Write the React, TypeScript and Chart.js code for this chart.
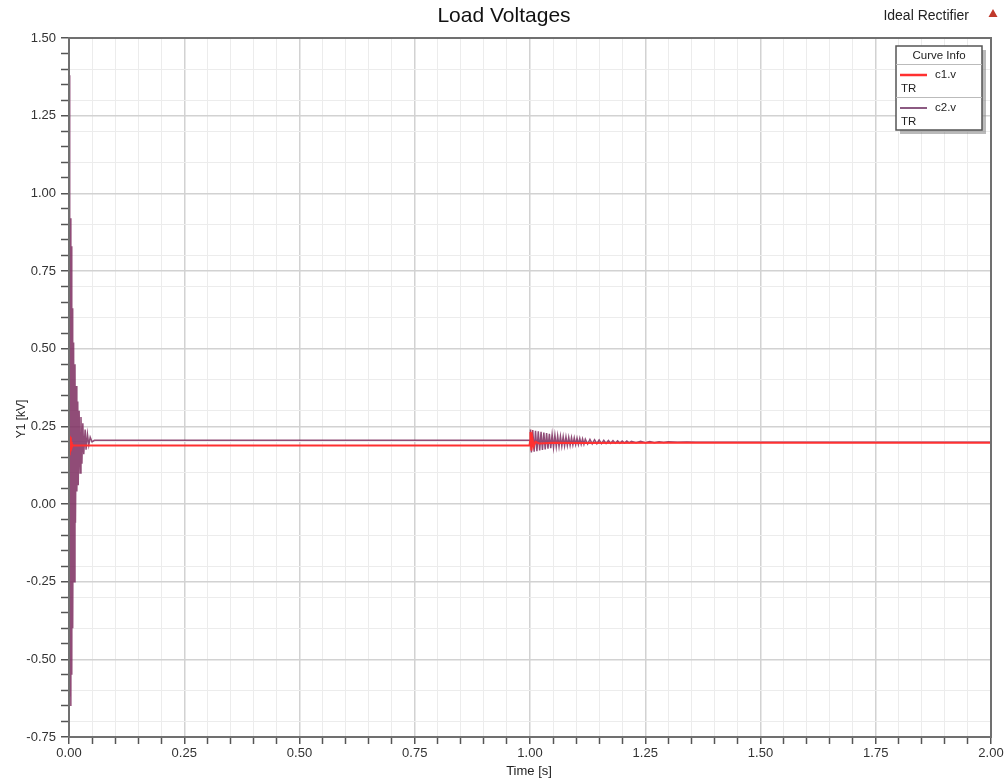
import React, { useEffect, useRef } from "react";
import { Chart, registerables } from "chart.js";

Chart.register(...registerables);

// ---- Data ----
const chartTitle = "Load Voltages";
const subTitle = "Ideal Rectifier";
const xAxisTitle = "Time [s]";
const yAxisTitle = "Y1 [kV]";
const legendTitle = "Curve Info";
const seriesNames = ["c1.v", "c2.v"];
const seriesSub = ["TR", "TR"];

// c1.v (red)
const c1Time = [0.0, 0.001, 0.002, 0.003, 0.004, 0.005, 0.006, 0.008, 0.01, 0.999, 1.0, 1.001, 1.003, 1.005, 1.008, 1.012, 1.02, 1.05, 1.1, 1.3, 2.0];
const c1Volt = [0.16, 0.22, 0.165, 0.215, 0.175, 0.2, 0.182, 0.19, 0.188, 0.188, 0.2, 0.232, 0.172, 0.214, 0.186, 0.2, 0.195, 0.197, 0.196, 0.197, 0.197];

// c2.v (purple)
const c2Time = [
  0.0, 0.001, 0.002, 0.003, 0.004, 0.005, 0.006, 0.007, 0.008, 0.010, 0.011, 0.013, 0.014, 0.016, 0.017,
  0.019, 0.020, 0.022, 0.024, 0.026, 0.028, 0.030, 0.032, 0.035, 0.037, 0.040, 0.043, 0.046, 0.050, 0.055,
  1.000, 1.001, 1.003, 1.006, 1.009, 1.012, 1.015, 1.018, 1.021, 1.024, 1.027, 1.030, 1.033, 1.036, 1.039,
  1.042, 1.045, 1.048, 1.051, 1.054, 1.057, 1.060, 1.063, 1.066, 1.069, 1.072, 1.075, 1.078, 1.081, 1.084,
  1.087, 1.090, 1.093, 1.096, 1.099, 1.102, 1.105, 1.108, 1.111, 1.114, 1.117, 1.120, 1.125, 1.130, 1.135,
  1.140, 1.145, 1.150, 1.155, 1.160, 1.165, 1.170, 1.175, 1.180, 1.185, 1.190, 1.195, 1.200, 1.205, 1.210,
  1.215, 1.220, 1.230, 1.240, 1.250, 1.260, 1.270, 1.280, 1.290, 1.300, 1.320, 1.340, 1.360, 2.000,
];
const c2Volt = [
  0.2, 1.38, -0.62, 0.92, -0.65, 0.83, -0.55, 0.63, -0.4, 0.52, -0.25, 0.45, -0.06, 0.38, 0.04,
  0.33, 0.06, 0.3, 0.1, 0.28, 0.13, 0.26, 0.16, 0.24, 0.175, 0.225, 0.19, 0.215, 0.2, 0.205,
  0.205, 0.24, 0.166, 0.238, 0.168, 0.236, 0.17, 0.234, 0.172, 0.232, 0.174, 0.23, 0.176, 0.228, 0.178,
  0.226, 0.18, 0.224, 0.182, 0.222, 0.184, 0.22, 0.185, 0.218, 0.186, 0.217, 0.187, 0.216, 0.188, 0.215,
  0.189, 0.214, 0.19, 0.213, 0.191, 0.212, 0.1915, 0.211, 0.192, 0.21, 0.1925, 0.209, 0.193, 0.208, 0.1935,
  0.207, 0.194, 0.206, 0.1945, 0.205, 0.195, 0.2045, 0.1953, 0.204, 0.1956, 0.2035, 0.196, 0.203, 0.1963, 0.2025,
  0.1966, 0.202, 0.197, 0.2015, 0.1973, 0.201, 0.1976, 0.2005, 0.198, 0.2, 0.1985, 0.1995, 0.199, 0.199,
];

const xMin = 0;
const xMax = 2;
const xStep = 0.05;
const xMajor = 0.25;
const yMin = -0.75;
const yMax = 1.5;
const yStep = 0.05;
const yMajor = 0.25;
const yGridStep = 0.1;

const RED = "rgb(255,48,48)";
const PURPLE = "rgba(125,45,95,0.85)";
const FONT = "'Liberation Sans', Arial, sans-serif";

const near = (v: number, step: number, base = 0) => {
  const r = (v - base) / step;
  return Math.abs(r - Math.round(r)) < 1e-6;
};

const decorPlugin = {
  id: "decor",
  afterDraw(chart: any) {
    const ctx = chart.ctx as CanvasRenderingContext2D;
    const a = chart.chartArea;
    ctx.save();
    // plot frame
    ctx.strokeStyle = "#707070";
    ctx.lineWidth = 2;
    ctx.strokeRect(a.left, a.top, a.right - a.left, a.bottom - a.top);

    // title
    ctx.fillStyle = "#111";
    ctx.font = `21px ${FONT}`;
    ctx.textAlign = "center";
    ctx.textBaseline = "middle";
    ctx.fillText(chartTitle, 504, 16);

    // subtitle
    ctx.font = `14px ${FONT}`;
    ctx.textAlign = "right";
    ctx.fillStyle = "#222";
    ctx.fillText(subTitle, 969, 16);
    // red triangle
    ctx.fillStyle = "#c0392b";
    ctx.beginPath();
    ctx.moveTo(993, 9);
    ctx.lineTo(997.5, 17);
    ctx.lineTo(988.5, 17);
    ctx.closePath();
    ctx.fill();

    // axis titles
    ctx.fillStyle = "#222";
    ctx.font = `13px ${FONT}`;
    ctx.textAlign = "center";
    ctx.fillText(xAxisTitle, 529, 771);
    ctx.save();
    ctx.translate(22, 419);
    ctx.rotate(-Math.PI / 2);
    ctx.font = `12px ${FONT}`;
    ctx.fillText(yAxisTitle, 0, 0);
    ctx.restore();

    // legend box
    const lx = 896, ly = 46, lw = 86, lh = 84;
    ctx.fillStyle = "rgba(130,130,130,0.55)";
    ctx.fillRect(lx + 4, ly + 4, lw, lh);
    ctx.fillStyle = "#fff";
    ctx.fillRect(lx, ly, lw, lh);
    ctx.strokeStyle = "#555";
    ctx.lineWidth = 1.5;
    ctx.strokeRect(lx, ly, lw, lh);
    ctx.fillStyle = "#222";
    ctx.font = `11.5px ${FONT}`;
    ctx.textAlign = "center";
    ctx.fillText(legendTitle, lx + lw / 2, 56);
    ctx.strokeStyle = "#bbb";
    ctx.lineWidth = 1;
    ctx.beginPath();
    ctx.moveTo(lx, 64.5);
    ctx.lineTo(lx + lw, 64.5);
    ctx.moveTo(lx, 97.5);
    ctx.lineTo(lx + lw, 97.5);
    ctx.stroke();

    const rows = [75, 108];
    const colors = [RED, "rgb(140,90,130)"];
    rows.forEach((yy, i) => {
      ctx.strokeStyle = colors[i];
      ctx.lineWidth = i === 0 ? 2.5 : 2;
      ctx.beginPath();
      ctx.moveTo(900, yy);
      ctx.lineTo(927, yy);
      ctx.stroke();
      ctx.fillStyle = "#222";
      ctx.textAlign = "left";
      ctx.fillText(seriesNames[i], 935, yy);
      ctx.fillText(seriesSub[i], 901, yy + 14);
    });
    ctx.restore();
  },
};

export default function App() {
  const ref = useRef<HTMLCanvasElement | null>(null);

  useEffect(() => {
    document.body.style.margin = "0";
    const canvas = ref.current;
    if (!canvas) return;
    const tickFont = { family: FONT, size: 13 };
    const chart = new Chart(canvas, {
      type: "line",
      data: {
        datasets: [
          {
            label: seriesNames[0],
            data: c1Time.map((t, i) => ({ x: t, y: c1Volt[i] })),
            borderColor: RED,
            borderWidth: 2,
            pointRadius: 0,
            tension: 0,
          },
          {
            label: seriesNames[1],
            data: c2Time.map((t, i) => ({ x: t, y: c2Volt[i] })),
            borderColor: PURPLE,
            borderWidth: 1.5,
            pointRadius: 0,
            tension: 0,
          },
        ],
      },
      options: {
        responsive: false,
        animation: false,
        layout: { padding: { top: 38, right: 17, left: 0, bottom: 0 } },
        plugins: {
          legend: { display: false },
          title: { display: false },
          tooltip: { enabled: false },
        },
        scales: {
          x: {
            type: "linear",
            min: xMin,
            max: xMax,
            afterFit: (s: any) => {
              s.height = 47;
            },
            ticks: {
              stepSize: xStep,
              autoSkip: false,
              maxRotation: 0,
              padding: 2,
              color: "#333",
              font: tickFont,
              callback: (v: any) => (near(Number(v), xMajor) ? Number(v).toFixed(2) : ""),
            },
            grid: {
              color: (c: any) => (near(c.tick.value, xMajor) ? "#d2d2d2" : "#ececec"),
              lineWidth: (c: any) => (near(c.tick.value, xMajor) ? 1.5 : 1),
              tickColor: "#555",
              tickLength: 7,
              tickWidth: 1.5,
            },
            border: { display: true, color: "#707070", width: 2 },
          },
          y: {
            type: "linear",
            min: yMin,
            max: yMax,
            afterFit: (s: any) => {
              s.width = 69;
            },
            ticks: {
              stepSize: yStep,
              autoSkip: false,
              padding: 5,
              color: "#333",
              font: tickFont,
              callback: (v: any) => (near(Number(v), yMajor) ? Number(v).toFixed(2) : ""),
            },
            grid: {
              color: (c: any) =>
                near(c.tick.value, yMajor)
                  ? "#d2d2d2"
                  : near(c.tick.value, yGridStep, yMax)
                  ? "#ececec"
                  : "rgba(0,0,0,0)",
              lineWidth: (c: any) => (near(c.tick.value, yMajor) ? 1.5 : 1),
              tickColor: "#555",
              tickLength: 8,
              tickWidth: 1.5,
            },
            border: { display: true, color: "#707070", width: 2 },
          },
        },
      },
      plugins: [decorPlugin],
    } as any);
    return () => chart.destroy();
  }, []);

  return (
    <div style={{ position: "absolute", left: 0, top: 0, width: 1008, height: 784, background: "#fff" }}>
      <canvas ref={ref} width={1008} height={784} />
    </div>
  );
}
